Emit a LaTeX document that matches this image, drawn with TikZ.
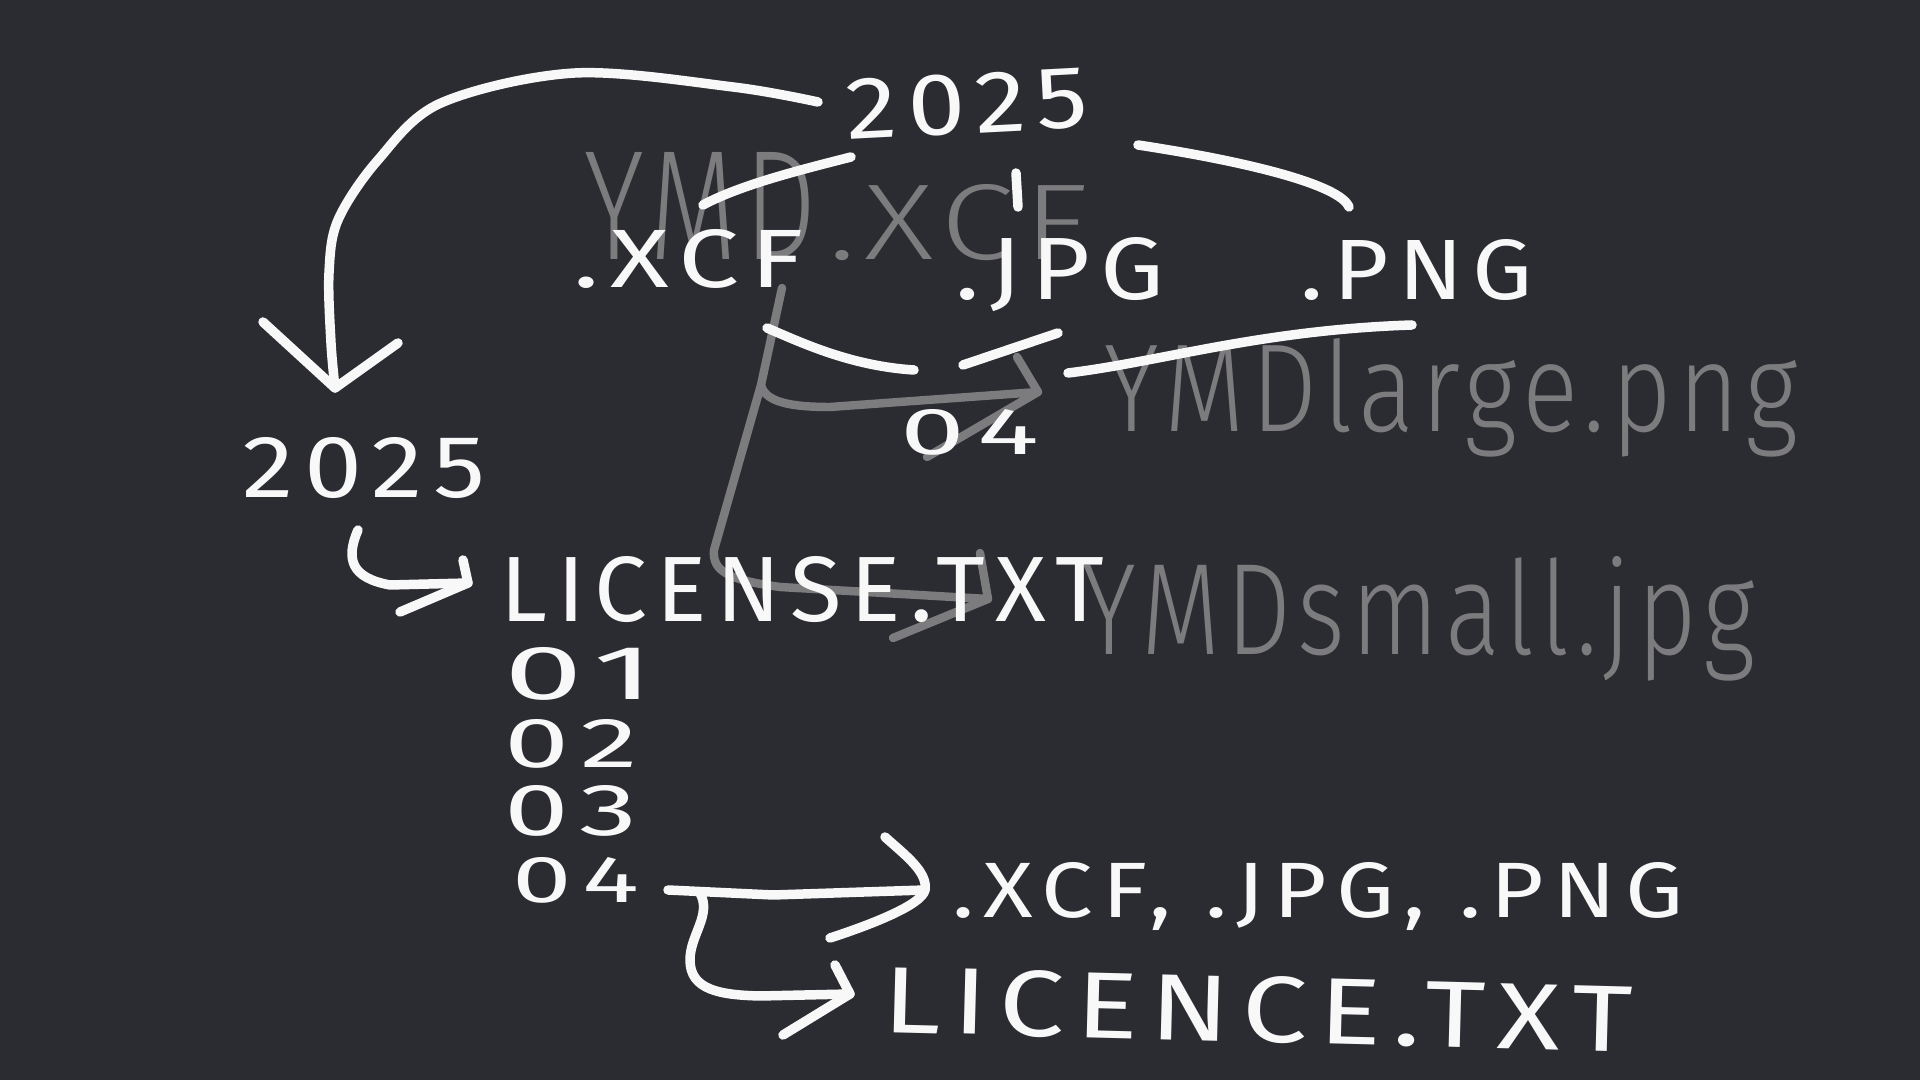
\documentclass[tikz,border=0pt]{standalone}
\usepackage{graphicx}
\usepackage{fontspec}
\setmainfont{Fira Sans}[LetterSpace=10]
\newfontfamily\oldhand{Fira Sans}[UprightFont={* Light}, LetterSpace=6]
\usepackage{tikz}
\usetikzlibrary{positioning}

\definecolor{board}{RGB}{43,44,50}
\definecolor{chalk}{RGB}{248,248,248}
\definecolor{faded}{RGB}{124,124,126}

% squeeze a word to the size it has on the board
\newcommand{\hand}[3]{\resizebox{#1cm}{#2cm}{#3}}

\tikzset{
  word/.style={anchor=base west, inner sep=0pt, text=chalk},
  oldword/.style={anchor=base west, inner sep=0pt, text=faded, font=\oldhand},
  pen/.style={draw=chalk, line width=2.7pt, line cap=round, line join=round},
  oldpen/.style={draw=faded, line width=2.4pt, line cap=round, line join=round}
}

\begin{document}
\begin{tikzpicture}[x=0.01cm, y=-0.01cm]
    \fill[board] (0,0) rectangle (1920,1080);
    \useasboundingbox (0,0) rectangle (1920,1080);

    % Old names (grey)
    \node[oldword] (oldxcf) at (584,260) {\hand{2.32}{1.07}{YMD}\hspace{0.12cm}\hand{2.59}{0.75}{.XCF}};
    \node[oldword] (oldlarge) at (1104,432) {\hand{6.93}{0.93}{YMDlarge.png}};
    \node[oldword] (oldsmall) at (1082,655) {\hand{6.72}{0.98}{YMDsmall.jpg}};

    % Old arrows
    \coordinate (oldtop) at (782,288);
    \coordinate (oldfork) at (761,385);
    \coordinate (oldtolarge) at (1038,392);
    \coordinate (oldtosmall) at (988,599);
    \draw[oldpen] (oldtop) -- (oldfork) -- (714,550) .. controls (712,572) and (730,580) .. (780,587) -- (oldtosmall);
    \draw[oldpen] (980,553) -- (oldtosmall) -- (893,638);
    \draw[oldpen] (oldfork) .. controls (765,402) and (790,407) .. (830,407) -- (oldtolarge);
    \draw[oldpen] (1017,357) -- (oldtolarge) -- (927,457);

    % New names (white)
    \node[word, rotate=3] (year) at (847,140) {\hand{2.42}{0.6}{2025}};
    \node[word] (xcf) at (573,288) {\hand{2.30}{0.58}{.XCF}};
    \node[word] (jpg) at (955,300) {\hand{2.08}{0.62}{.JPG}};
    \node[word] (png) at (1300,300) {\hand{2.32}{0.6}{.PNG}};
    \node[word] (month) at (900,455) {\hand{1.38}{0.45}{04}};
    \node[word] (folder) at (242,498) {\hand{2.43}{0.6}{2025}};
    \node[word] (license) at (500,622) {\hand{6.03}{0.65}{LICENSE.TXT}};
    \node[word] (m01) at (504,700) {\hand{1.50}{0.52}{01}};
    \node[word] (m02) at (504,768) {\hand{1.33}{0.48}{02}};
    \node[word] (m03) at (504,836) {\hand{1.33}{0.5}{03}};
    \node[word] (m04) at (512,903) {\hand{1.27}{0.45}{04}};
    \node[word] (exts) at (952,918) {\hand{7.30}{0.55}{.XCF, .JPG, .PNG}};
    \node[word, rotate=-1.5] (licence) at (882,1032) {\hand{7.49}{0.66}{LICENCE.TXT}};

    % Year folder loop
    \coordinate (loopstart) at (818,102);
    \coordinate (looptip) at (335,388);
    \draw[pen] plot[smooth, tension=0.55] coordinates {(818,102) (733,87) (575,73) (441,103) (378,160) (338,220) (329,273) (331,343) (335,388)};
    \draw[pen] (263,322) -- (looptip) -- (398,343);

    % Branches to the three files
    \draw[pen] (851,157) .. controls (800,170) and (740,185) .. (703,205);
    \draw[pen] (1016,173) -- (1018,207);
    \draw[pen] (1138,145) .. controls (1250,162) and (1340,185) .. (1349,207);

    % They all end up in 04
    \draw[pen] (767,328) .. controls (800,342) and (850,366) .. (914,370);
    \draw[pen] (963,365) -- (1058,333);
    \draw[pen] (1068,373) .. controls (1160,362) and (1260,330) .. (1412,325);

    % 2025 -> LICENSE.TXT
    \coordinate (hookone) at (358,530);
    \coordinate (hookonetip) at (468,583);
    \draw[pen] (hookone) .. controls (345,560) and (352,578) .. (390,585) -- (hookonetip);
    \draw[pen] (463,560) -- (hookonetip) -- (400,612);

    % 04 -> files
    \coordinate (m04out) at (668,890);
    \coordinate (extstip) at (925,890);
    \draw[pen] (m04out) -- (773,895) -- (extstip);
    \draw[pen] (885,837) .. controls (905,855) and (928,872) .. (extstip) .. controls (922,905) and (870,925) .. (830,938);

    % 04 -> LICENCE.TXT
    \coordinate (hooktwo) at (700,893);
    \coordinate (hooktwotip) at (850,994);
    \draw[pen] (hooktwo) .. controls (712,915) and (690,935) .. (690,960) .. controls (690,990) and (720,995) .. (760,996) -- (hooktwotip);
    \draw[pen] (835,965) -- (hooktwotip) -- (783,1035);
\end{tikzpicture}
\end{document}
